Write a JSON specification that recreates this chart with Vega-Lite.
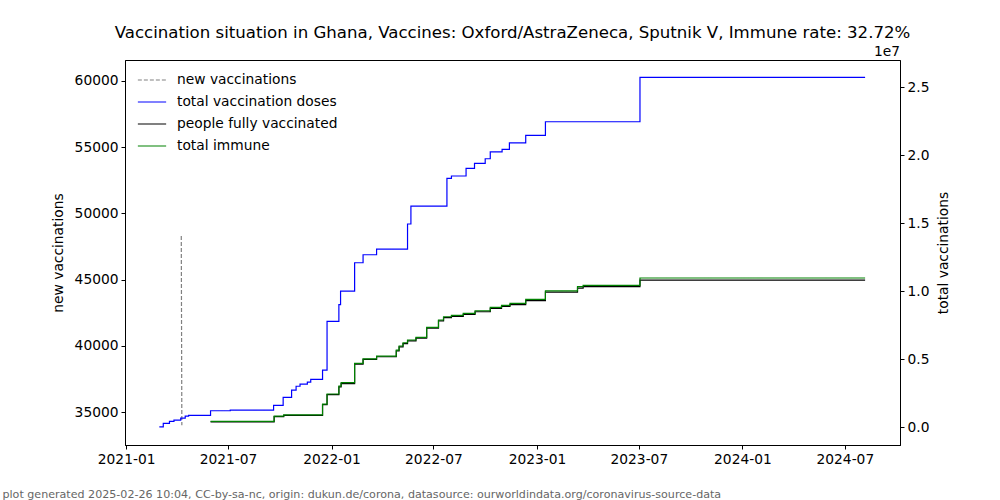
{
  "$schema": "https://vega.github.io/schema/vega-lite/v6.json",
  "width": 775,
  "height": 385,
  "autosize": "none",
  "padding": {"left": 125, "top": 60, "right": 100, "bottom": 55},
  "background": "white",
  "title": {
    "text": "Vaccination situation in Ghana, Vaccines: Oxford/AstraZeneca, Sputnik V, Immune rate: 32.72%",
    "fontSize": 16.6,
    "font": "DejaVu Sans",
    "fontWeight": "normal",
    "anchor": "middle",
    "offset": 3,
    "color": "black"
  },
  "config": {
    "view": {"stroke": "black", "strokeWidth": 1},
    "font": "DejaVu Sans",
    "axis": {
      "grid": false,
      "domainColor": "black",
      "tickColor": "black",
      "tickSize": 4,
      "labelFontSize": 13.8,
      "labelColor": "black",
      "labelFont": "DejaVu Sans",
      "titleFont": "DejaVu Sans",
      "titleFontSize": 13.8,
      "titleFontWeight": "normal",
      "titleColor": "black",
      "labelPadding": 3
    },
    "legend": {
      "labelFontSize": 13.8,
      "labelFont": "DejaVu Sans",
      "labelColor": "black",
      "labelLimit": 400
    }
  },
  "datasets": {
    "newvac": [
      {"date": "2021-04-09", "series": "new vaccinations", "value": 48300},
      {"date": "2021-04-10", "series": "new vaccinations", "value": 34000}
    ],
    "totals": [
      {"date": "2021-03-01", "series": "total vaccination doses", "value": 10000},
      {"date": "2021-03-08", "series": "total vaccination doses", "value": 270000},
      {"date": "2021-03-19", "series": "total vaccination doses", "value": 420000},
      {"date": "2021-03-27", "series": "total vaccination doses", "value": 510000},
      {"date": "2021-04-08", "series": "total vaccination doses", "value": 660000},
      {"date": "2021-04-16", "series": "total vaccination doses", "value": 810000},
      {"date": "2021-04-22", "series": "total vaccination doses", "value": 860000},
      {"date": "2021-05-31", "series": "total vaccination doses", "value": 1200000},
      {"date": "2021-07-05", "series": "total vaccination doses", "value": 1250000},
      {"date": "2021-09-20", "series": "total vaccination doses", "value": 1600000},
      {"date": "2021-10-07", "series": "total vaccination doses", "value": 2180000},
      {"date": "2021-10-22", "series": "total vaccination doses", "value": 2720000},
      {"date": "2021-10-30", "series": "total vaccination doses", "value": 3000000},
      {"date": "2021-11-06", "series": "total vaccination doses", "value": 3160000},
      {"date": "2021-11-19", "series": "total vaccination doses", "value": 3300000},
      {"date": "2021-11-25", "series": "total vaccination doses", "value": 3500000},
      {"date": "2021-12-16", "series": "total vaccination doses", "value": 4190000},
      {"date": "2021-12-24", "series": "total vaccination doses", "value": 7770000},
      {"date": "2022-01-14", "series": "total vaccination doses", "value": 9000000},
      {"date": "2022-01-17", "series": "total vaccination doses", "value": 10000000},
      {"date": "2022-02-11", "series": "total vaccination doses", "value": 12080000},
      {"date": "2022-02-26", "series": "total vaccination doses", "value": 12670000},
      {"date": "2022-03-22", "series": "total vaccination doses", "value": 13090000},
      {"date": "2022-05-16", "series": "total vaccination doses", "value": 14930000},
      {"date": "2022-05-22", "series": "total vaccination doses", "value": 16250000},
      {"date": "2022-07-25", "series": "total vaccination doses", "value": 18280000},
      {"date": "2022-08-02", "series": "total vaccination doses", "value": 18460000},
      {"date": "2022-08-28", "series": "total vaccination doses", "value": 19020000},
      {"date": "2022-09-12", "series": "total vaccination doses", "value": 19390000},
      {"date": "2022-10-01", "series": "total vaccination doses", "value": 19730000},
      {"date": "2022-10-10", "series": "total vaccination doses", "value": 20240000},
      {"date": "2022-10-31", "series": "total vaccination doses", "value": 20420000},
      {"date": "2022-11-13", "series": "total vaccination doses", "value": 20900000},
      {"date": "2022-12-12", "series": "total vaccination doses", "value": 21450000},
      {"date": "2023-01-16", "series": "total vaccination doses", "value": 22450000},
      {"date": "2023-07-03", "series": "total vaccination doses", "value": 25710000},
      {"date": "2024-08-06", "series": "total vaccination doses", "value": 25710000},

      {"date": "2021-05-31", "series": "people fully vaccinated", "value": 380000},
      {"date": "2021-09-21", "series": "people fully vaccinated", "value": 760000},
      {"date": "2021-10-08", "series": "people fully vaccinated", "value": 860000},
      {"date": "2021-12-16", "series": "people fully vaccinated", "value": 1650000},
      {"date": "2021-12-24", "series": "people fully vaccinated", "value": 2380000},
      {"date": "2022-01-14", "series": "people fully vaccinated", "value": 2960000},
      {"date": "2022-01-18", "series": "people fully vaccinated", "value": 3200000},
      {"date": "2022-02-11", "series": "people fully vaccinated", "value": 4620000},
      {"date": "2022-02-26", "series": "people fully vaccinated", "value": 4970000},
      {"date": "2022-03-22", "series": "people fully vaccinated", "value": 5170000},
      {"date": "2022-04-26", "series": "people fully vaccinated", "value": 5600000},
      {"date": "2022-05-01", "series": "people fully vaccinated", "value": 5900000},
      {"date": "2022-05-08", "series": "people fully vaccinated", "value": 6140000},
      {"date": "2022-05-16", "series": "people fully vaccinated", "value": 6340000},
      {"date": "2022-05-31", "series": "people fully vaccinated", "value": 6540000},
      {"date": "2022-06-19", "series": "people fully vaccinated", "value": 7270000},
      {"date": "2022-07-10", "series": "people fully vaccinated", "value": 7800000},
      {"date": "2022-07-19", "series": "people fully vaccinated", "value": 8040000},
      {"date": "2022-08-02", "series": "people fully vaccinated", "value": 8140000},
      {"date": "2022-08-23", "series": "people fully vaccinated", "value": 8290000},
      {"date": "2022-09-13", "series": "people fully vaccinated", "value": 8480000},
      {"date": "2022-10-10", "series": "people fully vaccinated", "value": 8720000},
      {"date": "2022-10-30", "series": "people fully vaccinated", "value": 8870000},
      {"date": "2022-11-14", "series": "people fully vaccinated", "value": 9000000},
      {"date": "2022-12-12", "series": "people fully vaccinated", "value": 9300000},
      {"date": "2023-01-16", "series": "people fully vaccinated", "value": 9920000},
      {"date": "2023-03-14", "series": "people fully vaccinated", "value": 10220000},
      {"date": "2023-03-24", "series": "people fully vaccinated", "value": 10320000},
      {"date": "2023-07-03", "series": "people fully vaccinated", "value": 10810000},
      {"date": "2024-08-06", "series": "people fully vaccinated", "value": 10810000},

      {"date": "2021-05-31", "series": "total immune", "value": 420000},
      {"date": "2021-09-21", "series": "total immune", "value": 810000},
      {"date": "2021-10-08", "series": "total immune", "value": 900000},
      {"date": "2021-12-16", "series": "total immune", "value": 1690000},
      {"date": "2021-12-24", "series": "total immune", "value": 2430000},
      {"date": "2022-01-14", "series": "total immune", "value": 3010000},
      {"date": "2022-01-18", "series": "total immune", "value": 3260000},
      {"date": "2022-02-11", "series": "total immune", "value": 4680000},
      {"date": "2022-02-26", "series": "total immune", "value": 5020000},
      {"date": "2022-03-22", "series": "total immune", "value": 5220000},
      {"date": "2022-04-26", "series": "total immune", "value": 5660000},
      {"date": "2022-05-01", "series": "total immune", "value": 5960000},
      {"date": "2022-05-08", "series": "total immune", "value": 6200000},
      {"date": "2022-05-16", "series": "total immune", "value": 6400000},
      {"date": "2022-05-31", "series": "total immune", "value": 6600000},
      {"date": "2022-06-19", "series": "total immune", "value": 7330000},
      {"date": "2022-07-10", "series": "total immune", "value": 7870000},
      {"date": "2022-07-19", "series": "total immune", "value": 8110000},
      {"date": "2022-08-02", "series": "total immune", "value": 8210000},
      {"date": "2022-08-23", "series": "total immune", "value": 8360000},
      {"date": "2022-09-13", "series": "total immune", "value": 8550000},
      {"date": "2022-10-10", "series": "total immune", "value": 8800000},
      {"date": "2022-10-30", "series": "total immune", "value": 8950000},
      {"date": "2022-11-14", "series": "total immune", "value": 9090000},
      {"date": "2022-12-12", "series": "total immune", "value": 9390000},
      {"date": "2023-01-16", "series": "total immune", "value": 10020000},
      {"date": "2023-03-14", "series": "total immune", "value": 10320000},
      {"date": "2023-03-24", "series": "total immune", "value": 10420000},
      {"date": "2023-07-03", "series": "total immune", "value": 10960000},
      {"date": "2024-08-06", "series": "total immune", "value": 10960000}
    ],
    "note": [
      {"date": "2024-09-14", "value": 27600000, "label": "1e7"}
    ]
  },
  "encoding": {
    "x": {
      "field": "date",
      "type": "temporal",
      "scale": {"domain": ["2020-12-30", "2024-10-07"]},
      "axis": {
        "format": "%Y-%m",
        "values": ["2021-01-01", "2021-07-01", "2022-01-01", "2022-07-01", "2023-01-01", "2023-07-01", "2024-01-01", "2024-07-01"],
        "labelAngle": 0,
        "title": "plot generated 2025-02-26 10:04, CC-by-sa-nc, origin: dukun.de/corona, datasource: ourworldindata.org/coronavirus-source-data",
        "titleFontSize": 11.1,
        "titleColor": "#666666",
        "titleX": -123,
        "titleY": 49,
        "titleAlign": "left",
        "titleAnchor": "start",
        "titleBaseline": "middle"
      }
    }
  },
  "layer": [
    {
      "data": {"name": "newvac"},
      "mark": {"type": "line", "strokeWidth": 1.2, "interpolate": "linear"},
      "encoding": {
        "y": {
          "field": "value",
          "type": "quantitative",
          "scale": {"domain": [32508, 61586], "nice": false, "zero": false},
          "axis": {
            "orient": "left",
            "title": "new vaccinations",
            "values": [35000, 40000, 45000, 50000, 55000, 60000],
            "format": "d",
            "titlePadding": 9
          }
        },
        "color": {
          "field": "series",
          "type": "nominal",
          "scale": {
            "domain": ["new vaccinations", "total vaccination doses", "people fully vaccinated", "total immune"],
            "range": ["#808080", "#0000ff", "#000000", "#008000"]
          },
          "legend": {
            "title": null,
            "orient": "none",
            "legendX": 12,
            "legendY": 5,
            "symbolType": "stroke",
            "symbolSize": 800,
            "symbolStrokeWidth": 1.2,
            "symbolOpacity": 1,
            "rowPadding": -9,
            "labelOffset": 10
          }
        },
        "strokeDash": {
          "field": "series",
          "type": "nominal",
          "scale": {
            "domain": ["new vaccinations", "total vaccination doses", "people fully vaccinated", "total immune"],
            "range": [[4, 2], [1, 0], [1, 0], [1, 0]]
          },
          "legend": {
            "title": null,
            "orient": "none",
            "legendX": 12,
            "legendY": 5,
            "symbolType": "stroke",
            "symbolSize": 800,
            "symbolStrokeWidth": 1.2,
            "symbolOpacity": 1,
            "rowPadding": -9,
            "labelOffset": 10
          }
        }
      }
    },
    {
      "layer": [
        {
          "data": {"name": "totals"},
          "mark": {"type": "line", "strokeWidth": 1.2, "interpolate": "step-after"},
          "encoding": {
            "y": {
              "field": "value",
              "type": "quantitative",
              "scale": {"domain": [-1320000, 26990000], "nice": false, "zero": false},
              "axis": {
                "orient": "right",
                "title": "total vaccinations",
                "titleAngle": 270,
                "titleBaseline": "top",
                "values": [0, 5000000, 10000000, 15000000, 20000000, 25000000],
                "labelExpr": "format(datum.value / 10000000, '.1f')",
                "titlePadding": 8
              }
            },
            "color": {"field": "series", "type": "nominal"},
            "strokeDash": {"field": "series", "type": "nominal"},
            "order": {"field": "date", "type": "temporal"}
          }
        },
        {
          "data": {"name": "note"},
          "mark": {"type": "text", "fontSize": 13.8, "font": "DejaVu Sans", "color": "black", "align": "center", "baseline": "middle"},
          "encoding": {
            "y": {"field": "value", "type": "quantitative"},
            "text": {"field": "label", "type": "nominal"}
          }
        }
      ]
    }
  ],
  "resolve": {"scale": {"y": "independent"}}
}
